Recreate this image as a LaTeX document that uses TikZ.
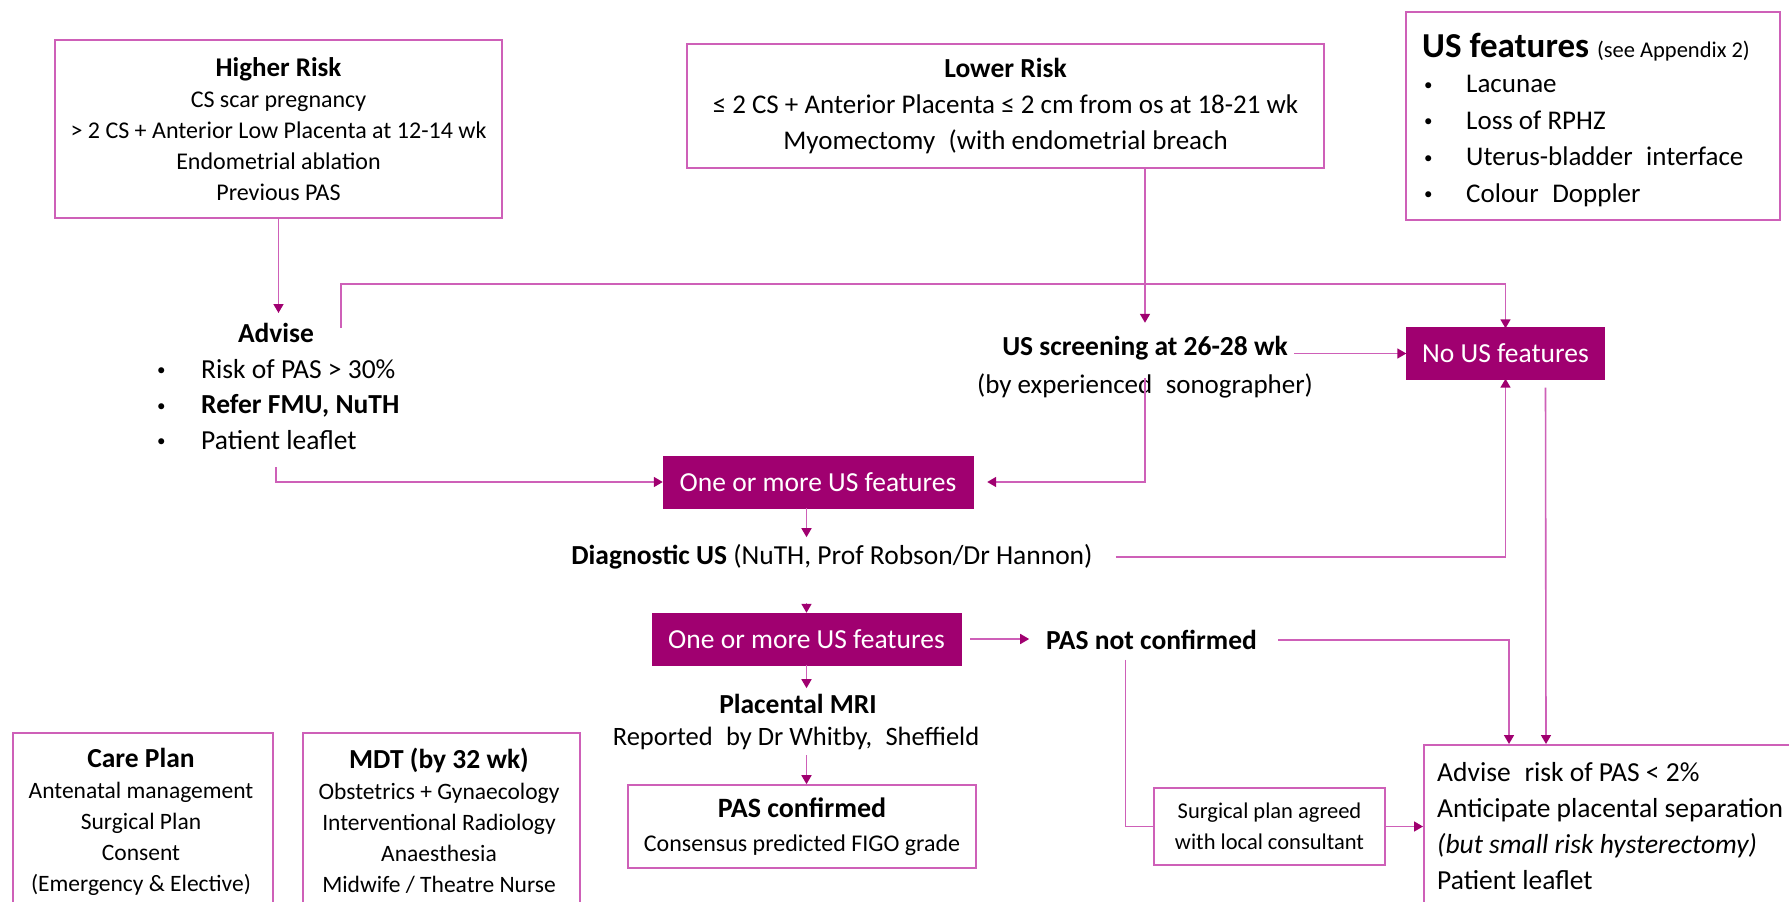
\documentclass[tikz,border=0pt]{standalone}
\usepackage{fontspec}
\setmainfont{Carlito}
\usetikzlibrary{arrows.meta,calc}
\definecolor{mag}{RGB}{160,0,112}
\definecolor{lpink}{RGB}{206,96,184}
\newcommand{\bul}{\raisebox{2.5pt}{\fontsize{17}{17}\selectfont\textbullet}}
\tikzset{
  box/.style={draw=lpink, line width=1.6pt, inner sep=0pt, align=center},
  fbox/.style={fill=mag, draw=mag, text=white, inner sep=0pt, align=center,
    font=\fontsize{27.5}{30}\selectfont},
  txt/.style={inner sep=0pt, align=center},
  conn/.style={draw=lpink, line width=1.6pt},
  arr/.style={conn, -{Triangle[width=10pt,length=9pt,color=mag]}},
}
\begin{document}
\begin{tikzpicture}[x=1pt,y=-1pt]
\useasboundingbox[fill=white] (0,0) rectangle (1789,902);

% Higher risk
\node[box, minimum width=447, minimum height=178, font=\fontsize{24}{31}\selectfont] (hr) at (278.5,129)
  {{\fontsize{27}{31}\selectfont\bfseries Higher Risk}\\CS scar pregnancy\\> 2 CS + Anterior Low Placenta at 12-14 wk\\Endometrial ablation\\Previous PAS};

% Lower risk
\node[box, minimum width=637, minimum height=124, font=\fontsize{27}{36}\selectfont] (lr) at (1005.5,106)
  {{\fontsize{27.5}{36}\selectfont\bfseries Lower Risk}\\≤ 2 CS + Anterior Placenta ≤ 2 cm from os at 18-21 wk\\Myomectomy\enspace(with endometrial breach};

% US features
\node[box, minimum width=374, minimum height=208] (usf) at (1593,116) {};
\node[txt, anchor=west, font=\fontsize{35}{38}\selectfont] (usft) at (1422,47)
  {\textbf{US features} {\fontsize{22.5}{24}\selectfont(see Appendix 2)}};
\node[txt, anchor=north west, align=left, font=\fontsize{27}{36.5}\selectfont] (usfl) at (1424,67)
  {\begin{tabular}{@{}p{42pt}@{}l@{}}
  \bul & Lacunae\\
  \bul & Loss of RPHZ\\
  \bul & Uterus-bladder\enspace interface\\
  \bul & Colour\enspace Doppler
  \end{tabular}};

% Advise
\node[txt, font=\fontsize{27.5}{30}\selectfont\bfseries] (adv) at (276,333) {Advise};
\node[txt, anchor=north west, align=left, font=\fontsize{27.5}{35.5}\selectfont] (advl) at (157,353)
  {\begin{tabular}{@{}p{44pt}@{}l@{}}
  \bul & Risk of PAS > 30\%\\
  \bul & \textbf{Refer FMU, NuTH}\\
  \bul & Patient leaflet
  \end{tabular}};
\coordinate (advR) at (341,328);
\coordinate (advB) at (276,467);

% US screening
\node[txt, font=\fontsize{27.5}{30}\selectfont\bfseries] (scrA) at (1145,348) {US screening at 26-28 wk};
\node[txt, font=\fontsize{27}{30}\selectfont] (scrB) at (1145,386) {(by experienced\enspace sonographer)};

% No US features
\node[fbox, minimum width=198, minimum height=52] (nous) at (1505.5,353.5) {No US features};

% One or more 1
\node[fbox, minimum width=310, minimum height=52] (box1) at (818,482) {One or more US features};

% Diagnostic
\node[txt, font=\fontsize{27.5}{30}\selectfont] (diag) at (832,557) {\textbf{Diagnostic US} (NuTH, Prof Robson/Dr Hannon)};

% One or more 2
\node[fbox, minimum width=309, minimum height=52] (box2) at (806.5,639) {One or more US features};

% PAS not confirmed
\node[txt, font=\fontsize{27.5}{30}\selectfont\bfseries] (pnc) at (1151.5,640) {PAS not confirmed};

% Placental MRI
\node[txt, font=\fontsize{27.5}{30}\selectfont\bfseries] (mri) at (798,704) {Placental MRI};
\node[txt, font=\fontsize{26.5}{30}\selectfont] (rep) at (796,738) {Reported\enspace by Dr Whitby,\enspace Sheffield};

% PAS confirmed
\node[box, minimum width=348, minimum height=83, font=\fontsize{24}{34}\selectfont] (pasc) at (802,826.5)
  {{\fontsize{28}{34}\selectfont\bfseries PAS confirmed}\\Consensus predicted FIGO grade};

% Surgical plan
\node[box, minimum width=231, minimum height=77, font=\fontsize{22.5}{31}\selectfont] (surg) at (1269.5,826.5)
  {Surgical plan agreed\\with local consultant};

% Advise risk box
\node[box, anchor=north west, minimum width=390, minimum height=180] (ar) at (1423,744) {};
\node[txt, anchor=north west, align=left, font=\fontsize{27.5}{36}\selectfont] (art) at (1437,762)
  {Advise\enspace risk of PAS < 2\%\\Anticipate placental separation\\\textit{(but small risk hysterectomy)}\\Patient leaflet};

% Care plan
\node[box, anchor=north west, minimum width=260, minimum height=190] (cp) at (12,732) {};
\node[txt, anchor=north, font=\fontsize{23.5}{31}\selectfont] (cpt) at (141,748)
  {{\fontsize{27.5}{35}\selectfont\bfseries Care Plan}\\Antenatal management\\Surgical Plan\\Consent\\(Emergency \& Elective)};

% MDT
\node[box, anchor=north west, minimum width=277, minimum height=190] (mdt) at (302,732) {};
\node[txt, anchor=north, font=\fontsize{23.5}{31}\selectfont] (mdtt) at (439,748)
  {{\fontsize{27.5}{35}\selectfont\bfseries MDT (by 32 wk)}\\Obstetrics + Gynaecology\\Interventional Radiology\\Anaesthesia\\Midwife / Theatre Nurse};

% ---------------- connectors
\draw[arr] (hr.south) -- (hr.south |- 0,313);
\draw[arr] (advR) -- ++(0,-44) -| ([yshift=-1]nous.north);
\draw[arr] (scrA.north |- lr.south) -- ++(0,154);
\draw[arr] (nous.west -| 1294,0) -- (nous.west);
\draw[arr] ([yshift=20]scrB.south) |- ([xshift=14]box1.east);
\draw[arr] (advB) |- (box1.west);
\draw[arr] (box1.south -| box2.north) -- ++(0,29);
\draw[arr] (box1.south -| box2.north) ++(0,95) -- (box2.north);
\draw[arr] ([xshift=9]box2.east) -- ++(59,0);
\draw[arr] (box2.south) -- ++(0,23);
\draw[arr] (box2.south) ++(0,90) -- (box2.south |- pasc.north);
\draw[arr] ([xshift=21]pnc.east) -| ($(ar.north west)+(86,0)$);
\draw[conn] ($(pnc.south)+(-26,10)$) |- (surg.west);
\draw[arr] (surg.east) -- (surg.east -| ar.west);
\draw[arr] ([xshift=23]diag.east) -| ([yshift=1]nous.south);
\draw[arr] ($(nous.south)+(40,8)$) -- ($(ar.north west)+(123,0)$);
\end{tikzpicture}
\end{document}
